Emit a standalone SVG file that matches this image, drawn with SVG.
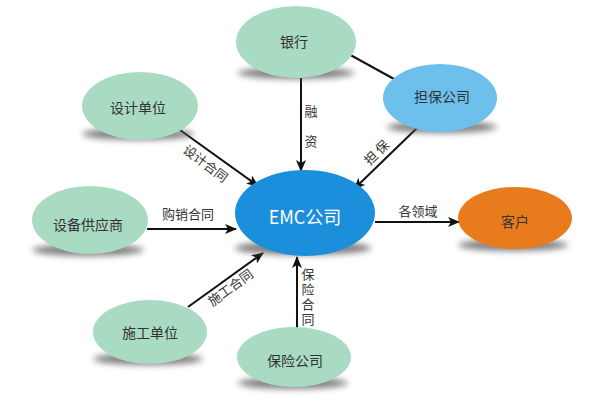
<svg xmlns="http://www.w3.org/2000/svg" width="607" height="405" viewBox="0 0 607 405">
<style>
.node-text{font-family:"Noto Sans CJK SC","Noto Sans",sans-serif;font-size:14px;fill:#333;text-anchor:middle;dominant-baseline:central}
.lbl{font-family:"Noto Sans CJK SC","Noto Sans",sans-serif;font-size:13px;fill:#333;text-anchor:middle;dominant-baseline:central}
.vert{font-family:"Noto Sans CJK SC","Noto Sans",sans-serif;font-size:13px;fill:#333;writing-mode:vertical-rl;letter-spacing:2px;text-anchor:start}
.green{fill:#A9DBC3}
.shadow{fill:#555;opacity:0.75;filter:url(#blur)}
.conn{stroke:#111;stroke-width:2;fill:none}
.arrow{marker-end:url(#ah)}
</style>
<defs>
<filter id="blur" x="-20%" y="-100%" width="140%" height="300%"><feGaussianBlur stdDeviation="3"/></filter>
<marker id="ah" viewBox="0 0 12 10" refX="11" refY="5" markerWidth="12" markerHeight="10" markerUnits="userSpaceOnUse" orient="auto">
<path d="M0,0 L12,5 L0,10 L3,5 Z" fill="#111"/>
</marker>
</defs>
<rect width="607" height="405" fill="#fff"/>

<g id="connectors">
<line class="conn arrow" x1="301" y1="78" x2="301" y2="171"/>
<line class="conn" x1="345" y1="52" x2="394" y2="79"/>
<line class="conn arrow" x1="417" y1="128" x2="354" y2="189"/>
<line class="conn arrow" x1="180" y1="130" x2="258" y2="186"/>
<line class="conn arrow" x1="147" y1="229" x2="236" y2="229"/>
<line class="conn arrow" x1="188" y1="307" x2="263" y2="253"/>
<line class="conn arrow" x1="297" y1="330" x2="297" y2="257"/>
<line class="conn arrow" x1="375" y1="222" x2="459" y2="222"/>
<text class="lbl" x="311" y="110">融</text>
<text class="lbl" x="311" y="140">资</text>
<text class="lbl" transform="rotate(-44 376 152)" x="376" y="152">担 保</text>
<text class="lbl" transform="rotate(37 206 163)" x="206" y="163">设计合同</text>
<text class="lbl" x="188" y="213">购销合同</text>
<text class="lbl" transform="rotate(-36 230 287)" x="230" y="287">施工合同</text>
<text class="vert" x="308" y="268">保险合同</text>
<text class="lbl" x="418" y="210">各领域</text>
</g>

<g id="bank">
<ellipse class="shadow" cx="296" cy="73" rx="58" ry="6"/>
<ellipse class="green" cx="296" cy="42" rx="60" ry="36"/>
<text class="node-text" x="294" y="41">银行</text>
</g>
<g id="guarantee">
<ellipse class="shadow" cx="442" cy="127" rx="55" ry="6"/>
<ellipse cx="440" cy="98" rx="57" ry="34" fill="#6CC0EB"/>
<text class="node-text" x="442" y="96">担保公司</text>
</g>
<g id="design">
<ellipse class="shadow" cx="138" cy="134" rx="56" ry="6"/>
<ellipse class="green" cx="140" cy="106" rx="58" ry="34"/>
<text class="node-text" x="138" y="107">设计单位</text>
</g>
<g id="emc">
<ellipse class="shadow" cx="303" cy="248" rx="68" ry="7"/>
<ellipse cx="305" cy="213" rx="70" ry="43" fill="#1B8EDC"/>
<text class="node-text" x="305" y="216" style="fill:#fff;font-size:18px">EMC公司</text>
</g>
<g id="supplier">
<ellipse class="shadow" cx="88" cy="250" rx="56" ry="6"/>
<ellipse class="green" cx="90" cy="220" rx="58" ry="34"/>
<text class="node-text" x="88" y="224">设备供应商</text>
</g>
<g id="construction">
<ellipse class="shadow" cx="148" cy="359" rx="55" ry="6"/>
<ellipse class="green" cx="150" cy="332" rx="57" ry="32"/>
<text class="node-text" x="150" y="332">施工单位</text>
</g>
<g id="insurance">
<ellipse class="shadow" cx="293" cy="383" rx="55" ry="6"/>
<ellipse class="green" cx="294" cy="357" rx="57" ry="30"/>
<text class="node-text" x="295" y="360">保险公司</text>
</g>
<g id="customer">
<ellipse class="shadow" cx="513" cy="245" rx="55" ry="6"/>
<ellipse cx="515" cy="218" rx="57" ry="31" fill="#E87B1C"/>
<text class="node-text" x="515" y="221">客户</text>
</g>
</svg>
